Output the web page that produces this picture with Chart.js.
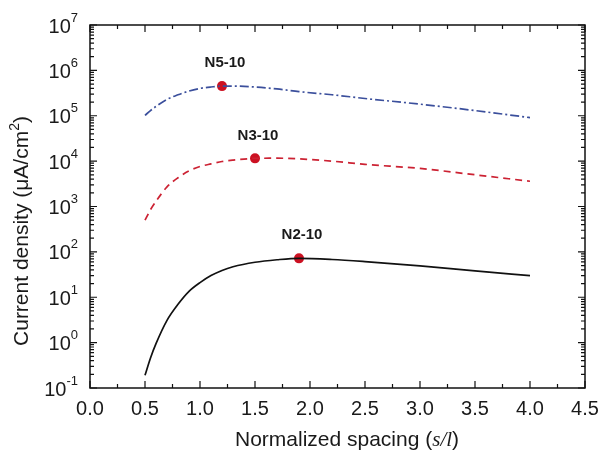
<!DOCTYPE html>
<html>
<head>
<meta charset="utf-8">
<script src="https://cdn.jsdelivr.net/npm/chart.js@4.4.1/dist/chart.umd.min.js"></script>
<style>
html,body{margin:0;padding:0;background:#fff;}
#wrap{width:601px;height:459px;}
</style>
</head>
<body>
<div id="wrap"><canvas id="c" width="601" height="459"></canvas></div>
<script>
// ---- data ----
const spacing = [0.5, 0.55, 0.6, 0.7, 0.8, 0.9, 1.0, 1.1, 1.2, 1.3, 1.5, 1.7, 1.9, 2.2, 2.5, 3.0, 3.5, 4.0];
const n2_10 = [0.19, 0.46, 0.95, 3.1, 7.0, 13.5, 21, 30, 39, 47, 59, 67, 72, 68, 61, 49, 38, 30];
const n3_10 = [500, 850, 1300, 2700, 4300, 6100, 7600, 8700, 9800, 10500, 11500, 11600, 11200, 10000, 8500, 6900, 5000, 3600];
const n5_10 = [1.02e5, 1.3e5, 1.6e5, 2.3e5, 2.9e5, 3.5e5, 4.0e5, 4.3e5, 4.5e5, 4.5e5, 4.3e5, 3.9e5, 3.4e5, 2.9e5, 2.4e5, 1.8e5, 1.3e5, 9.1e4];
const peakLabels = ['N5-10', 'N3-10', 'N2-10'];
const peakX = [1.2, 1.5, 1.9];
const peakY = [4.5e5, 11500, 72];
const xTickMin = 0, xTickMax = 4.5, xStep = 0.5;
const yMin = 0.1, yMax = 1e7;

const toXY = (ys) => spacing.map((x, i) => ({x: x, y: ys[i]}));

const FONT = '"Liberation Sans", Arial, Helvetica, sans-serif';
const TXT = '#1a1a1a';

const decor = {
  id: 'decor',
  afterDraw(chart) {
    const ctx = chart.ctx;
    const a = chart.chartArea;
    const xs = chart.scales.x, ys = chart.scales.y;
    ctx.save();
    ctx.strokeStyle = '#111';
    ctx.lineWidth = 1.5;
    ctx.strokeRect(a.left, a.top, a.right - a.left, a.bottom - a.top);
    ctx.lineWidth = 1.2;
    // x ticks
    ctx.fillStyle = TXT;
    ctx.font = '20px ' + FONT;
    ctx.textAlign = 'center';
    ctx.textBaseline = 'top';
    xs.ticks.forEach(t => {
      const px = xs.getPixelForValue(t.value);
      ctx.beginPath();
      ctx.moveTo(px, a.bottom); ctx.lineTo(px, a.bottom - 7);
      ctx.moveTo(px, a.top); ctx.lineTo(px, a.top + 7);
      const mv = t.value + xStep / 2;
      if (mv < xs.max) {
        const pm = xs.getPixelForValue(mv);
        ctx.moveTo(pm, a.bottom); ctx.lineTo(pm, a.bottom - 4);
        ctx.moveTo(pm, a.top); ctx.lineTo(pm, a.top + 4);
      }
      ctx.stroke();
      ctx.fillText(t.value.toFixed(1), px, a.bottom + 11);
    });
    // y ticks (log)
    const e0 = Math.round(Math.log10(ys.min)), e1 = Math.round(Math.log10(ys.max));
    for (let e = e0; e <= e1; e++) {
      const v = Math.pow(10, e);
      const py = ys.getPixelForValue(v);
      ctx.beginPath();
      ctx.moveTo(a.left, py); ctx.lineTo(a.left + 7, py);
      ctx.moveTo(a.right, py); ctx.lineTo(a.right - 7, py);
      ctx.stroke();
      if (e < e1) {
        ctx.beginPath();
        for (let k = 2; k <= 9; k++) {
          const pk = ys.getPixelForValue(k * v);
          ctx.moveTo(a.left, pk); ctx.lineTo(a.left + 4, pk);
          ctx.moveTo(a.right, pk); ctx.lineTo(a.right - 4, pk);
        }
        ctx.stroke();
      }
      const base = '10', sup = String(e);
      ctx.font = '20px ' + FONT;
      const wb = ctx.measureText(base).width;
      ctx.font = '13px ' + FONT;
      const ws = ctx.measureText(sup).width;
      const right = a.left - 12;
      ctx.textAlign = 'left';
      ctx.textBaseline = 'middle';
      ctx.font = '20px ' + FONT;
      ctx.fillText(base, right - ws - wb, py + 2);
      ctx.font = '13px ' + FONT;
      ctx.fillText(sup, right - ws, py - 7);
    }
    // y title
    ctx.save();
    ctx.translate(22, 231);
    ctx.rotate(-Math.PI / 2);
    ctx.textBaseline = 'middle';
    ctx.font = '21px ' + FONT;
    const t1 = 'Current density (\u03BCA/cm', t2 = '2', t3 = ')';
    const w1 = ctx.measureText(t1).width, w3 = ctx.measureText(t3).width;
    ctx.font = '14px ' + FONT;
    const w2 = ctx.measureText(t2).width;
    const tot = w1 + w2 + w3;
    ctx.textAlign = 'left';
    ctx.font = '21px ' + FONT;
    ctx.fillText(t1, -tot / 2, 0);
    ctx.font = '14px ' + FONT;
    ctx.fillText(t2, -tot / 2 + w1, -7);
    ctx.font = '21px ' + FONT;
    ctx.fillText(t3, -tot / 2 + w1 + w2, 0);
    ctx.restore();
    // x title
    ctx.textBaseline = 'middle';
    ctx.textAlign = 'left';
    const xa = 'Normalized spacing (', xb = 's/l', xc = ')';
    ctx.font = '21px ' + FONT;
    const wa = ctx.measureText(xa).width, wc = ctx.measureText(xc).width;
    ctx.font = 'italic 21px "Liberation Serif", "Times New Roman", serif';
    const wbb = ctx.measureText(xb).width;
    let sx = 347 - (wa + wbb + wc) / 2;
    ctx.font = '21px ' + FONT;
    ctx.fillText(xa, sx, 440);
    ctx.font = 'italic 21px "Liberation Serif", "Times New Roman", serif';
    ctx.fillText(xb, sx + wa, 440);
    ctx.font = '21px ' + FONT;
    ctx.fillText(xc, sx + wa + wbb, 440);
    // peak labels
    ctx.font = 'bold 15px ' + FONT;
    ctx.textAlign = 'center';
    ctx.textBaseline = 'middle';
    peakLabels.forEach((lab, i) => {
      const px = xs.getPixelForValue(peakX[i]);
      const py = ys.getPixelForValue(peakY[i]);
      ctx.fillText(lab, px + 3, py - 23);
    });
    ctx.restore();
  }
};

new Chart(document.getElementById('c'), {
  type: 'line',
  data: {
    datasets: [
      {label: 'N5-10', data: toXY(n5_10), borderColor: '#3b4f9c', borderWidth: 1.7,
       borderDash: [9, 3, 2, 3], pointRadius: 0, cubicInterpolationMode: 'monotone', fill: false},
      {label: 'N3-10', data: toXY(n3_10), borderColor: '#cc2233', borderWidth: 1.7,
       borderDash: [7, 5], pointRadius: 0, cubicInterpolationMode: 'monotone', fill: false},
      {label: 'N2-10', data: toXY(n2_10), borderColor: '#111111', borderWidth: 1.7,
       pointRadius: 0, cubicInterpolationMode: 'monotone', fill: false},
      {label: 'peaks', data: peakX.map((x, i) => ({x: x, y: peakY[i]})), showLine: false,
       pointRadius: 5, pointBackgroundColor: '#cc1122', pointBorderColor: '#cc1122', pointBorderWidth: 0}
    ]
  },
  options: {
    responsive: false,
    animation: false,
    layout: {padding: {top: 25, right: 16, left: 0, bottom: 0}},
    plugins: {legend: {display: false}, tooltip: {enabled: false}},
    scales: {
      x: {type: 'linear', min: xTickMin, max: xTickMax,
          ticks: {display: false, stepSize: xStep},
          grid: {display: false}, border: {display: false},
          afterFit: (s) => { s.height = 71; }},
      y: {type: 'logarithmic', min: yMin, max: yMax,
          ticks: {display: false},
          grid: {display: false}, border: {display: false},
          afterFit: (s) => { s.width = 90; }}
    }
  },
  plugins: [decor]
});
</script>
</body>
</html>
